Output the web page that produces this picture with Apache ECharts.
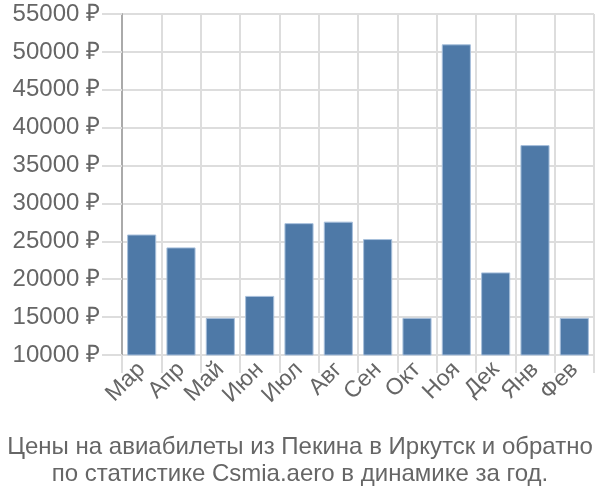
<!DOCTYPE html>
<html><head><meta charset="utf-8">
<script src="https://cdn.jsdelivr.net/npm/echarts@6/dist/echarts.min.js"></script>
<style>html,body{margin:0;padding:0;background:#fff}#c{width:600px;height:500px}</style>
</head><body><div id="c"></div>
<script>
const categories = ['Мар','Апр','Май','Июн','Июл','Авг','Сен','Окт','Ноя','Дек','Янв','Фев'];
const prices = [25900, 24200, 14900, 17800, 27400, 27600, 25300, 14900, 51000, 20900, 37700, 14900];
const titleLines = ['Цены на авиабилеты из Пекина в Иркутск и обратно', 'по статистике Csmia.aero в динамике за год.'];

const chart = echarts.init(document.getElementById('c'), null, {renderer:'canvas'});
const font = '"Liberation Sans", Arial, sans-serif';
chart.setOption({
  animation:false,
  title:{
    text: titleLines.join('\n'),
    left:'center', top:429,
    textStyle:{fontFamily:font, fontSize:24, fontWeight:'normal', color:'#666', lineHeight:27}
  },
  grid:{left:122, right:6, top:14, bottom:145, containLabel:false},
  xAxis:{
    type:'category', data:categories,
    axisLine:{show:true, lineStyle:{color:'#ddd'}},
    axisTick:{show:true, length:18, lineStyle:{color:'#ddd', width:2}},
    splitLine:{show:true, lineStyle:{color:'#ddd', width:2}},
    axisLabel:{rotate:45, margin:11, fontFamily:font, fontSize:23, color:'#666', interval:0}
  },
  yAxis:{
    type:'value', min:10000, max:55000, interval:5000,
    axisLine:{show:true, lineStyle:{color:'#aaa', width:2}},
    axisTick:{show:true, length:20, lineStyle:{color:'#ddd', width:2}},
    splitLine:{show:true, lineStyle:{color:'#ddd', width:2}},
    axisLabel:{formatter:function(v){return v + ' ₽';}, margin:22, fontFamily:font, fontSize:24, color:'#666'}
  },
  series:[{
    type:'bar', data:prices, barCategoryGap:'26%',
    itemStyle:{color:'#4e79a7', borderColor:'#a8c0dc', borderWidth:1}
  }]
});
</script></body></html>
